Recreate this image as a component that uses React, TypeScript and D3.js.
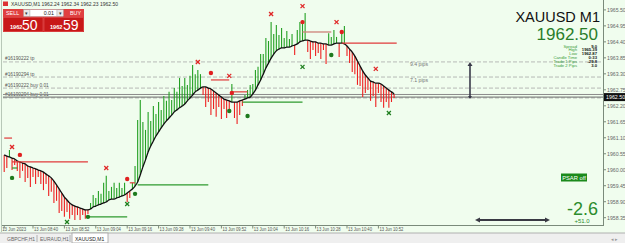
import React from "react";
import * as d3 from "d3";

const W = 625;
const H = 243;
const FONT = "'Liberation Sans', Arial, sans-serif";

// Moving-average (black line) value per 1-minute bar, 08:29 .. 10:58
const maValues = [
  1960.51, 1960.47, 1960.44, 1960.40, 1960.37, 1960.30, 1960.27, 1960.23, 1960.20, 1960.13,
  1960.10, 1960.06, 1960.03, 1959.99, 1959.96, 1959.92, 1959.85, 1959.79, 1959.72, 1959.61,
  1959.48, 1959.34, 1959.20, 1959.06, 1958.96, 1958.86, 1958.79, 1958.75, 1958.72, 1958.68,
  1958.65, 1958.62, 1958.62, 1958.65, 1958.72, 1958.75, 1958.79, 1958.82, 1958.86, 1958.89,
  1958.96, 1958.99, 1958.99, 1959.03, 1959.06, 1959.10, 1959.13, 1959.20, 1959.27, 1959.34,
  1959.44, 1959.58, 1959.82, 1960.10, 1960.34, 1960.61, 1960.82, 1960.99, 1961.16, 1961.30,
  1961.44, 1961.57, 1961.68, 1961.78, 1961.88, 1961.99, 1962.06, 1962.13, 1962.19, 1962.26,
  1962.37, 1962.47, 1962.57, 1962.68, 1962.74, 1962.81, 1962.85, 1962.85, 1962.81, 1962.78,
  1962.71, 1962.64, 1962.57, 1962.50, 1962.43, 1962.40, 1962.37, 1962.33, 1962.33, 1962.33,
  1962.37, 1962.40, 1962.43, 1962.47, 1962.50, 1962.61, 1962.74, 1962.92, 1963.09, 1963.29,
  1963.50, 1963.67, 1963.84, 1963.98, 1964.09, 1964.15, 1964.19, 1964.19, 1964.22, 1964.22,
  1964.26, 1964.29, 1964.33, 1964.40, 1964.43, 1964.46, 1964.46, 1964.43, 1964.40, 1964.40,
  1964.36, 1964.36, 1964.33, 1964.33, 1964.29, 1964.29, 1964.33, 1964.36, 1964.36, 1964.36,
  1964.33, 1964.26, 1964.15, 1964.05, 1963.91, 1963.74, 1963.57, 1963.40, 1963.26, 1963.16,
  1963.05, 1963.02, 1962.98, 1962.98, 1962.95, 1962.88, 1962.81, 1962.74, 1962.68, 1962.61,
];

// Extreme (high for bull bars, low for bear bars) per bar
const extValues = [
  1959.92, 1960.06, 1960.68, 1959.99, 1960.16, 1959.96, 1959.72, 1959.96, 1959.58, 1959.72,
  1959.41, 1959.75, 1959.51, 1959.75, 1959.51, 1959.30, 1959.51, 1959.10, 1959.24, 1958.86,
  1958.93, 1958.51, 1958.58, 1958.38, 1958.55, 1958.31, 1958.44, 1958.27, 1958.44, 1958.27,
  1958.44, 1958.31, 1958.48, 1958.86, 1959.13, 1959.03, 1959.27, 1959.17, 1959.55, 1959.79,
  1959.27, 1959.41, 1959.55, 1959.37, 1959.55, 1959.37, 1959.55, 1958.89, 1959.03, 1959.55,
  1960.13, 1961.71, 1962.40, 1961.64, 1961.37, 1961.99, 1961.68, 1962.19, 1961.92, 1962.33,
  1962.06, 1962.54, 1962.37, 1962.68, 1962.40, 1962.81, 1962.68, 1963.16, 1962.88, 1963.16,
  1962.92, 1963.23, 1963.60, 1963.29, 1963.43, 1963.29, 1962.57, 1962.16, 1962.33, 1961.88,
  1962.09, 1961.82, 1962.16, 1961.75, 1962.09, 1961.78, 1962.09, 1962.95, 1961.78, 1961.57,
  1961.88, 1962.19, 1962.57, 1962.74, 1962.92, 1962.95, 1963.43, 1963.54, 1963.98, 1963.98,
  1964.53, 1964.43, 1965.08, 1964.67, 1964.98, 1964.64, 1964.88, 1964.53, 1964.77, 1964.50,
  1964.67, 1963.95, 1964.81, 1965.08, 1965.15, 1965.39, 1964.05, 1963.81, 1964.12, 1963.91,
  1964.02, 1963.81, 1964.12, 1963.64, 1964.70, 1964.57, 1964.81, 1964.57, 1963.88, 1964.70,
  1964.95, 1963.91, 1963.67, 1963.36, 1963.29, 1962.92, 1962.88, 1962.50, 1962.64, 1962.74,
  1962.37, 1962.54, 1962.16, 1962.64, 1962.33, 1962.13, 1962.33, 1962.13, 1962.33, 1962.47,
];

const timeTickBars = [0, 11, 23, 35, 47, 59, 71, 83, 95, 107, 119, 131, 143];
const timeTickLabels = [
  "13 Jun 2023", "13 Jun 08:40", "13 Jun 08:52", "13 Jun 09:04", "13 Jun 09:16",
  "13 Jun 09:28", "13 Jun 09:40", "13 Jun 09:52", "13 Jun 10:04", "13 Jun 10:16",
  "13 Jun 10:28", "13 Jun 10:40", "13 Jun 10:52",
];
const priceTicks = [
  1965.5, 1964.95, 1964.4, 1963.85, 1963.3, 1962.75, 1962.2, 1961.65, 1961.1,
  1960.55, 1960.0, 1959.45, 1958.9, 1958.35,
];

const redCrosses = [[3, 1960.78], [39, 1960.06], [74, 1963.71], [86, 1963.23], [102, 1965.36], [114, 1965.63], [127, 1965.08], [142, 1963.47]];
const greenCrosses = [[24, 1958.2], [47, 1958.82], [114, 1963.54], [147, 1961.95]];
const redDots = [[6, 1960.51], [47, 1959.68], [79, 1963.33], [87, 1962.64], [114, 1965.08], [129, 1964.74]];
const greenDots = [[3, 1959.72], [32, 1958.38], [50, 1959.17], [86, 1962.02], [93, 1961.85], [125, 1963.95]];

const redLevels = [[0, 3, 1961.09], [3, 32, 1960.27], [48, 50, 1959.55], [79, 86, 1963.09], [87, 93, 1962.68], [129, 150, 1964.36]];
const greenLevels = [[3, 5, 1960.06], [32, 47, 1958.38], [51, 78, 1959.48], [91, 114, 1962.33]];
const salmonLevels = [[114, 125, 1964.74]];

const orderLabels = ["#16190222 tp", "#16190294 tp", "#16190222 buy 0.01", "#16190294 buy 0.01"];
const orderPrices = [1963.71, 1963.19, 1962.81, 1962.47];
const pipLabels = ["9.4 pips", "7.1 pips"];
const askPrice = 1962.59;
const bidPrice = 1962.5;

const infoLabels = ["Spread", "High", "Low", "Candle Time", "Trade 1 Pips", "Trade 2 Pips"];
const infoValues = ["9.0", "1965.39", "1962.87", "0:33", "-29.8", "3.0"];

const tabLabels = ["GBPCHF,H1", "EURAUD,H1", "XAUUSD,M1"];

const GREEN = "#23a023";
const RED = "#ee2020";

export default function App() {
  const x = d3.scaleLinear().domain([0, 149]).range([4.2, 394.1]);
  const y = d3.scaleLinear().domain([1958.35, 1965.5]).range([217.7, 9.9]);
  const maLine = d3
    .line<number>()
    .x((_, i) => x(i))
    .y((d) => y(d))
    .curve(d3.curveMonotoneX);

  const cross = (cx: number, cy: number, color: string, k: string) => (
    <g key={k} stroke={color} strokeWidth={1.3}>
      <line x1={cx - 2} y1={cy - 2} x2={cx + 2} y2={cy + 2} />
      <line x1={cx - 2} y1={cy + 2} x2={cx + 2} y2={cy - 2} />
    </g>
  );

  return (
    <svg
      width={W}
      height={H}
      style={{ position: "fixed", left: 0, top: 0, display: "block" }}
      fontFamily={FONT}
    >
      <rect x={0} y={0} width={W} height={H} fill="#f0fdee" />
      <line x1={1.5} y1={0} x2={1.5} y2={232} stroke="#b8c8b8" />

      {/* order / price lines */}
      {orderPrices.map((p, i) => (
        <g key={"o" + i}>
          <line x1={3} x2={603} y1={y(p)} y2={y(p)} stroke="#a8a8a8" strokeDasharray="4,2" strokeWidth={0.8} />
          <text x={5} y={y(p) - 1.5} fontSize={4.8} fill="#555">{orderLabels[i]}</text>
        </g>
      ))}
      {pipLabels.map((t, i) => (
        <text key={"p" + i} x={419} y={y(orderPrices[i]) + 4.5} fontSize={5.2} fill="#777" textAnchor="middle">{t}</text>
      ))}
      <line x1={3} x2={603} y1={y(askPrice)} y2={y(askPrice)} stroke="#8a8a8a" strokeWidth={1} />
      <line x1={3} x2={603} y1={y(bidPrice)} y2={y(bidPrice)} stroke="#6a6a6a" strokeWidth={1} />

      {/* bars */}
      {maValues.map((m, i) => {
        const e = extValues[i];
        return (
          <line
            key={"b" + i}
            x1={x(i)}
            x2={x(i)}
            y1={y(m)}
            y2={y(e)}
            stroke={e >= m ? GREEN : RED}
            strokeWidth={1.1}
          />
        );
      })}

      {/* MA line */}
      <path d={maLine(maValues) || ""} fill="none" stroke="#111" strokeWidth={1.3} />

      {/* level segments */}
      {redLevels.map((s, i) => (
        <line key={"rl" + i} x1={x(s[0])} x2={x(s[1])} y1={y(s[2])} y2={y(s[2])} stroke="#e03a3a" strokeWidth={1.2} />
      ))}
      {greenLevels.map((s, i) => (
        <line key={"gl" + i} x1={x(s[0])} x2={x(s[1])} y1={y(s[2])} y2={y(s[2])} stroke="#2e9a2e" strokeWidth={1.2} />
      ))}
      {salmonLevels.map((s, i) => (
        <line key={"sl" + i} x1={x(s[0])} x2={x(s[1])} y1={y(s[2])} y2={y(s[2])} stroke="#d08a80" strokeWidth={1.4} />
      ))}

      {/* markers */}
      {redCrosses.map((m, i) => cross(x(m[0]), y(m[1]), "#e02828", "rc" + i))}
      {greenCrosses.map((m, i) => cross(x(m[0]), y(m[1]), "#1f7f1f", "gc" + i))}
      {redDots.map((m, i) => (
        <circle key={"rd" + i} cx={x(m[0])} cy={y(m[1])} r={2.2} fill="#e02020" />
      ))}
      {greenDots.map((m, i) => (
        <circle key={"gd" + i} cx={x(m[0])} cy={y(m[1])} r={2.2} fill="#1d7a1d" />
      ))}

      {/* vertical arrow */}
      <line x1={470} x2={470} y1={y(orderPrices[0]) + 2} y2={y(bidPrice) + 1} stroke="#3a3a4a" strokeWidth={1.6} />
      <path d={`M467.5,${y(orderPrices[0]) + 4} L470,${y(orderPrices[0])} L472.5,${y(orderPrices[0]) + 4} Z`} fill="#3a3a4a" />
      <path d={`M468,${y(bidPrice) - 1} L470,${y(bidPrice) + 2} L472,${y(bidPrice) - 1} Z`} fill="#3a3a4a" />

      {/* horizontal arrow */}
      <line x1={478} x2={547} y1={220} y2={220} stroke="#3a3a44" strokeWidth={1.8} />
      <path d="M475,220 L480,217.5 L480,222.5 Z" fill="#3a3a44" />
      <path d="M550,220 L545,217.5 L545,222.5 Z" fill="#3a3a44" />

      {/* right info block */}
      <text x={600} y={22} fontSize={14.5} fill="#111" textAnchor="end">XAUUSD M1</text>
      <text x={598} y={40} fontSize={17} fill="#2a7d2a" textAnchor="end">1962.50</text>
      {infoLabels.map((l, i) => (
        <g key={"inf" + i}>
          <text x={577} y={47.6 + i * 3.85} fontSize={4.2} fill="#3a9a3a" textAnchor="end">{l}</text>
          <text x={597} y={47.6 + i * 3.85} fontSize={4.2} fill="#111" fontWeight="bold" textAnchor="end">{infoValues[i]}</text>
        </g>
      ))}

      {/* PSAR */}
      <rect x={561} y={173.5} width={26} height={8} fill="#1b8a1b" />
      <text x={574} y={179.8} fontSize={5.8} fill="#fff" textAnchor="middle">PSAR off</text>

      <text x={598} y={215} fontSize={18} fill="#2c8c2c" textAnchor="end">-2.6</text>
      <text x={582} y={223} fontSize={6} fill="#2c8c2c" textAnchor="middle">+51.0</text>

      {/* price axis */}
      <line x1={603.5} x2={603.5} y1={0} y2={225} stroke="#7a8a7a" />
      {priceTicks.map((p, i) => (
        <g key={"pt" + i}>
          <line x1={603} x2={606} y1={y(p)} y2={y(p)} stroke="#7a8a7a" />
          <text x={607} y={y(p) + 2} fontSize={5.2} fill="#666">{p.toFixed(2)}</text>
        </g>
      ))}
      <rect x={604} y={y(bidPrice) - 4} width={21} height={8} fill="#111" />
      <text x={606} y={y(bidPrice) + 2} fontSize={5.3} fill="#fff">{bidPrice.toFixed(2)}</text>

      {/* time axis */}
      <line x1={2} x2={604} y1={225.5} y2={225.5} stroke="#7a8a7a" />
      {timeTickBars.map((b, i) => (
        <g key={"tt" + i}>
          <line x1={x(b)} x2={x(b)} y1={225} y2={228.5} stroke="#7a8a7a" />
          <text
            x={x(b) + (i === 0 ? -2 : 1)}
            y={231}
            fontSize={4.8}
            fill="#555"
            textLength={24}
            lengthAdjust="spacingAndGlyphs"
          >
            {timeTickLabels[i]}
          </text>
        </g>
      ))}

      {/* tab bar */}
      <rect x={0} y={233} width={W} height={10} fill="#efefef" />
      <line x1={0} x2={W} y1={233} y2={233} stroke="#b0b0b0" />
      <rect x={72} y={233} width={36} height={10} fill="#fff" stroke="#a0a0a0" strokeWidth={0.8} />
      <line x1={37} x2={37} y1={235} y2={242} stroke="#b0b0b0" />
      <line x1={70} x2={70} y1={235} y2={242} stroke="#b0b0b0" />
      {tabLabels.map((t, i) => (
        <text key={"tab" + i} x={[7, 40, 75][i]} y={240.5} fontSize={5} fill={i === 2 ? "#222" : "#666"}>{t}</text>
      ))}
      <text x={611} y={240.5} fontSize={5} fill="#999">◂ ▸</text>

      {/* title line */}
      <rect x={3} y={1.5} width={5} height={4.5} fill="#d33" />
      <text x={11} y={6} fontSize={5} fill="#333">XAUUSD,M1  1962.24 1962.34 1962.23 1962.50</text>

      {/* one-click trading panel */}
      <g>
        <rect x={3} y={9} width={81} height={23} fill="#cf1e1e" />
        <rect x={3} y={9} width={20} height={8} fill="#e04040" />
        <text x={6} y={15} fontSize={5.4} fill="#fff">SELL</text>
        <rect x={23.5} y={9.5} width={6.5} height={7} fill="#e8e8e8" stroke="#aaa" strokeWidth={0.4} />
        <text x={26.7} y={15} fontSize={4.5} fill="#333" textAnchor="middle">▾</text>
        <rect x={30} y={9.5} width={27} height={7} fill="#fff" stroke="#aaa" strokeWidth={0.4} />
        <text x={54} y={15} fontSize={5.3} fill="#222" textAnchor="end">0.01</text>
        <rect x={57} y={9.5} width={6.5} height={7} fill="#e8e8e8" stroke="#aaa" strokeWidth={0.4} />
        <text x={60.2} y={15} fontSize={4.5} fill="#333" textAnchor="middle">▾</text>
        <rect x={64} y={9} width={20} height={8} fill="#e04040" />
        <text x={70} y={15} fontSize={5.4} fill="#fff">BUY</text>
        <rect x={3.5} y={17.5} width={39.5} height={14} fill="#c81818" stroke="#e25858" strokeWidth={0.6} />
        <rect x={44} y={17.5} width={39.5} height={14} fill="#c81818" stroke="#e25858" strokeWidth={0.6} />
        <text x={10} y={29} fontSize={5.6} fill="#fff" fontWeight="bold">1962</text>
        <text x={22} y={30} fontSize={14} fill="#fff">50</text>
        <text x={50} y={29} fontSize={5.6} fill="#fff" fontWeight="bold">1962</text>
        <text x={63} y={30} fontSize={14} fill="#fff">59</text>
      </g>
    </svg>
  );
}
